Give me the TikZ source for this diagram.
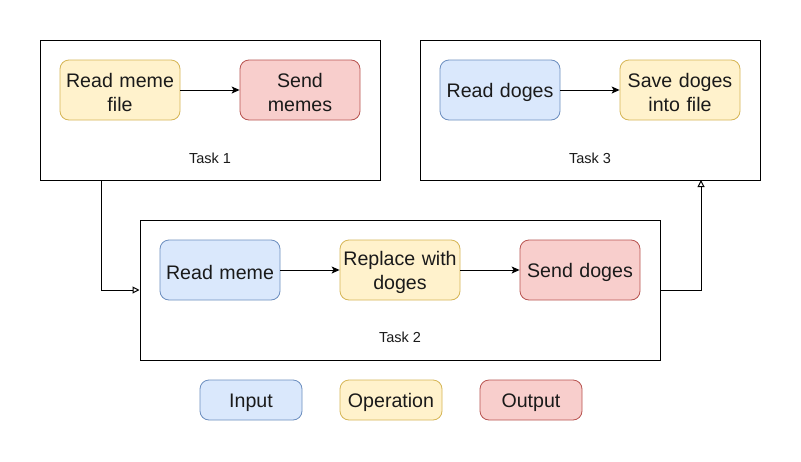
\documentclass[tikz,border=0pt]{standalone}
\usepackage{fontspec}
\setmainfont{Liberation Sans}
\usetikzlibrary{arrows.meta}
\definecolor{inF}{HTML}{DAE8FC}\definecolor{inD}{HTML}{6C8EBF}
\definecolor{opF}{HTML}{FFF2CC}\definecolor{opD}{HTML}{D6B656}
\definecolor{outF}{HTML}{F8CECC}\definecolor{outD}{HTML}{B85450}
\definecolor{txt}{HTML}{1A1A1A}
\tikzset{
  base/.style={rounded corners=9pt, line width=0.8pt, minimum width=120pt, minimum height=60pt,
    inner sep=0pt},
  boxtext/.style={inner sep=0pt, align=center, text width=118pt, yshift=-2.5pt,
    font=\fontsize{19.6}{23.5}\selectfont, text=txt},
  inbox/.style={base, fill=inF, draw=inD},
  opbox/.style={base, fill=opF, draw=opD},
  outbox/.style={base, fill=outF, draw=outD},
  legbox/.style={minimum width=102pt, minimum height=40pt},
  taskbox/.style={draw=black, line width=1pt, minimum width=340pt, minimum height=140pt, inner sep=0pt},
  tasklbl/.style={font=\fontsize{14.5}{17}\selectfont, text=txt, inner sep=0pt},
  flow/.style={line width=1pt, -{Stealth[length=8pt,width=7pt,inset=2pt]}},
  link/.style={line width=1pt, -{Triangle[open,length=7pt,width=7pt]}},
}
\begin{document}
\begin{tikzpicture}[x=1pt,y=-1pt]
\useasboundingbox[fill=white] (0,0) rectangle (801,461);
% task boxes
\node[taskbox] (t1) at (210,110) {};
\node[taskbox] (t3) at (590,110) {};
\node[taskbox, minimum width=520pt] (t2) at (400,290) {};
\node[tasklbl] (l1) at (210,158) {Task 1};
\node[tasklbl] (l3) at (590,158) {Task 3};
\node[tasklbl] (l2) at (400,337) {Task 2};
% task 1
\node[opbox, label={[boxtext]center:Read meme\\file}] (a1) at (120,90) {};
\node[outbox, label={[boxtext]center:Send\\memes}] (a2) at (300,90) {};
% task 3
\node[inbox, label={[boxtext]center:Read doges}] (c1) at (500,90) {};
\node[opbox, label={[boxtext]center:Save doges\\into file}] (c2) at (680,90) {};
% task 2
\node[inbox, label={[boxtext]center:Read meme}] (b1) at (220,270) {};
\node[opbox, label={[boxtext]center:Replace with\\doges}] (b2) at (400,270) {};
\node[outbox, label={[boxtext]center:Send doges}] (b3) at (580,270) {};
% legend
\node[inbox, legbox, label={[boxtext]center:Input}] (g1) at (251,400) {};
\node[opbox, legbox, label={[boxtext]center:Operation}] (g2) at (391,400) {};
\node[outbox, legbox, label={[boxtext]center:Output}] (g3) at (531,400) {};
% flows
\draw[flow] (a1) -- (a2);
\draw[flow] (c1) -- (c2);
\draw[flow] (b1) -- (b2);
\draw[flow] (b2) -- (b3);
% links
\coordinate (p1) at (101.5,180);
\draw[link] (p1) |- (t2.west);
\coordinate (p3) at (701,180);
\draw[link] (t2.east) -| (p3);
\end{tikzpicture}
\end{document}
